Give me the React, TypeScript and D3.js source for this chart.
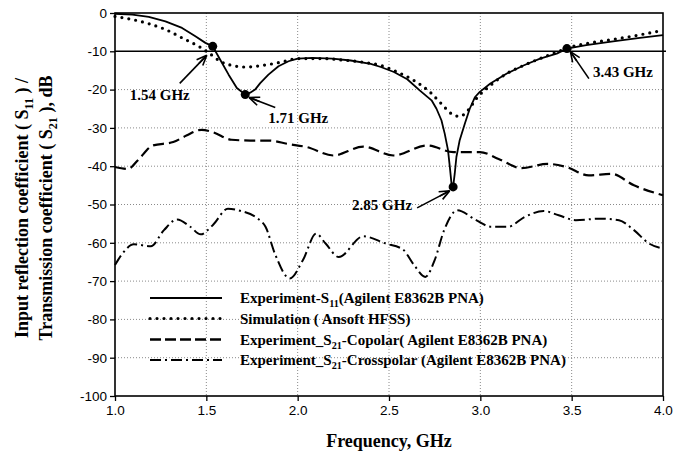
import { useEffect, useRef } from 'react';
import * as d3 from 'd3';

type Pt = [number, number];

const xTicks = [1.0, 1.5, 2.0, 2.5, 3.0, 3.5, 4.0];
const yTicks = [0, -10, -20, -30, -40, -50, -60, -70, -80, -90, -100];

// [GHz, dB]
const s11Exp: Pt[] = [
  [1.0, -0.2], [1.095, -0.4], [1.185, -1.0], [1.276, -2.2], [1.367, -3.9], [1.44, -6.1],
  [1.495, -7.8], [1.535, -8.7], [1.576, -12.2], [1.622, -16.1], [1.667, -19.6], [1.713, -21.3],
  [1.74, -20.8], [1.767, -20.0], [1.795, -18.3], [1.84, -16.1], [1.895, -13.9], [1.95, -12.6],
  [2.0, -11.9], [2.08, -11.7], [2.19, -11.9], [2.29, -12.4], [2.4, -13.3], [2.455, -14.1],
  [2.527, -15.4], [2.6, -17.3], [2.668, -20.2], [2.733, -22.8], [2.76, -25.0], [2.787, -28.0],
  [2.805, -31.5], [2.823, -35.8], [2.833, -40.2], [2.842, -44.5], [2.851, -45.4], [2.86, -41.9],
  [2.869, -37.6], [2.887, -33.2], [2.915, -28.9], [2.942, -25.0], [2.97, -22.0], [2.997, -20.6],
  [3.055, -18.4], [3.145, -15.8], [3.236, -13.7], [3.327, -11.9], [3.418, -10.6], [3.474, -9.3],
  [3.58, -8.4], [3.727, -7.4], [3.873, -6.5], [4.0, -5.8],
];

const s11Sim: Pt[] = [
  [1.0, -0.9], [1.095, -1.7], [1.185, -2.8], [1.276, -4.3], [1.367, -6.5], [1.458, -8.7],
  [1.513, -10.4], [1.576, -12.6], [1.64, -13.7], [1.713, -14.1], [1.804, -13.7], [1.913, -12.8],
  [2.0, -11.9], [2.13, -11.9], [2.25, -12.3], [2.38, -13.0], [2.455, -13.7], [2.545, -15.4],
  [2.636, -17.6], [2.723, -20.6], [2.787, -23.7], [2.842, -26.3], [2.887, -27.0], [2.933, -25.4],
  [2.979, -22.3], [3.055, -18.9], [3.145, -15.8], [3.236, -13.7], [3.327, -11.9], [3.418, -10.2],
  [3.49, -8.9], [3.58, -8.0], [3.727, -6.9], [3.873, -5.7], [4.0, -4.5],
];

const s21Co: Pt[] = [
  [1.0, -40.2], [1.072, -40.7], [1.124, -38.5], [1.206, -34.6], [1.319, -33.7], [1.391, -32.0],
  [1.474, -30.5], [1.535, -31.1], [1.638, -33.1], [1.741, -33.3], [1.844, -33.3], [1.947, -34.2],
  [2.05, -35.0], [2.194, -37.2], [2.359, -34.9], [2.524, -37.2], [2.709, -34.6], [2.853, -36.3],
  [2.997, -36.3], [3.1, -38.1], [3.224, -40.5], [3.368, -39.4], [3.471, -40.2], [3.594, -42.4],
  [3.718, -42.0], [3.841, -45.0], [4.0, -47.6],
];

const s21Cross: Pt[] = [
  [1.0, -65.8], [1.041, -62.8], [1.103, -60.4], [1.196, -60.9], [1.268, -56.7], [1.34, -53.9],
  [1.412, -55.8], [1.469, -57.8], [1.535, -55.4], [1.618, -51.1], [1.69, -51.7], [1.782, -53.7],
  [1.824, -55.8], [1.875, -62.8], [1.957, -69.3], [2.029, -64.5], [2.101, -57.6], [2.153, -60.2],
  [2.225, -63.7], [2.359, -58.3], [2.482, -60.2], [2.575, -61.7], [2.637, -65.8], [2.699, -68.9],
  [2.75, -64.5], [2.802, -56.7], [2.874, -51.5], [2.977, -54.1], [3.059, -55.8], [3.152, -55.8],
  [3.244, -53.2], [3.347, -51.7], [3.429, -52.8], [3.522, -54.1], [3.656, -53.7], [3.759, -54.1],
  [3.841, -56.7], [3.924, -60.2], [4.0, -61.5],
];

const markerPts: Pt[] = [[1.535, -8.7], [1.713, -21.3], [2.851, -45.4], [3.474, -9.3]];
const markerLabels = ['1.54 GHz', '1.71 GHz', '2.85 GHz', '3.43 GHz'];

const legendItems: [string, string][][] = [
  [['Experiment-S', ''], ['11', 'sub'], ['(Agilent E8362B PNA)', '']],
  [['Simulation ( Ansoft HFSS)', '']],
  [['Experiment_S', ''], ['21', 'sub'], ['-Copolar( Agilent E8362B PNA)', '']],
  [['Experiment_S', ''], ['21', 'sub'], ['-Crosspolar (Agilent E8362B PNA)', '']],
];

const W = 690;
const H = 455;
const SERIF = '"Liberation Serif", "Times New Roman", serif';
const SANS = '"Liberation Sans", Arial, sans-serif';

export default function App() {
  const svgRef = useRef<SVGSVGElement | null>(null);

  useEffect(() => {
    if (!svgRef.current) return;
    const svg = d3.select(svgRef.current);
    svg.selectAll('*').remove();

    const left = 115, right = 663, top = 13, bottom = 396;
    const x = d3.scaleLinear().domain([1, 4]).range([left, right]);
    const y = d3.scaleLinear().domain([0, -100]).range([top, bottom]);

    // grid
    const grid = svg.append('g');
    grid.selectAll('.vg')
      .data(xTicks.filter(t => t > 1 && t < 4))
      .enter().append('line')
      .attr('x1', d => x(d)).attr('x2', d => x(d))
      .attr('y1', top).attr('y2', bottom)
      .attr('stroke', '#8a8a8a').attr('stroke-width', 1).attr('stroke-dasharray', '1 2');
    grid.selectAll('.hg')
      .data(yTicks.filter(t => t < -10 && t > -100))
      .enter().append('line')
      .attr('x1', left).attr('x2', right)
      .attr('y1', d => y(d)).attr('y2', d => y(d))
      .attr('stroke', '#8a8a8a').attr('stroke-width', 1).attr('stroke-dasharray', '1 2');

    // frame
    const frame = svg.append('g').attr('stroke', '#000').attr('stroke-width', 1.6).attr('fill', 'none');
    frame.append('rect').attr('x', left).attr('y', top).attr('width', right - left).attr('height', bottom - top);
    frame.append('line').attr('x1', left).attr('x2', right + 3).attr('y1', y(-10)).attr('y2', y(-10));

    // axes
    const xAxis = svg.append('g').attr('transform', `translate(0,${bottom})`)
      .call(d3.axisBottom(x).tickValues(xTicks).tickFormat(d3.format('.1f')).tickSize(5).tickPadding(4));
    const yAxis = svg.append('g').attr('transform', `translate(${left},0)`)
      .call(d3.axisLeft(y).tickValues(yTicks).tickFormat(d => String(d)).tickSize(5).tickPadding(3));
    [xAxis, yAxis].forEach(a => {
      a.select('.domain').remove();
      a.selectAll('line').attr('stroke', '#000').attr('stroke-width', 1.3);
      a.selectAll('text').attr('font-family', SANS).attr('font-size', 13.5).attr('fill', '#000');
    });

    // curves
    const line = d3.line<Pt>().x(d => x(d[0])).y(d => y(d[1]));
    const smooth = d3.line<Pt>().x(d => x(d[0])).y(d => y(d[1])).curve(d3.curveMonotoneX);

    svg.append('path').attr('d', smooth(s21Co)).attr('fill', 'none')
      .attr('stroke', '#000').attr('stroke-width', 2.2).attr('stroke-dasharray', '11 5');
    svg.append('path').attr('d', smooth(s21Cross)).attr('fill', 'none')
      .attr('stroke', '#000').attr('stroke-width', 2).attr('stroke-dasharray', '11 4 2 4');
    svg.append('path').attr('d', smooth(s11Sim)).attr('fill', 'none')
      .attr('stroke', '#000').attr('stroke-width', 3.2).attr('stroke-linecap', 'round')
      .attr('stroke-dasharray', '0 7');
    svg.append('path').attr('d', line(s11Exp)).attr('fill', 'none')
      .attr('stroke', '#000').attr('stroke-width', 1.8).attr('stroke-linejoin', 'round');

    // markers + annotations
    const annot = [
      { tip: [-6, 9], tail: [-33, 37], text: [-83, 54], anchor: 'start' },
      { tip: [4, 3], tail: [30, 13], text: [23, 28], anchor: 'start' },
      { tip: [-3.5, 4], tail: [-36, 21], text: [-41, 23], anchor: 'end' },
      { tip: [3.5, 3], tail: [22, 30], text: [26, 28], anchor: 'start' },
    ];
    markerPts.forEach((p, i) => {
      const cx = x(p[0]), cy = y(p[1]);
      const a = annot[i];
      svg.append('circle').attr('cx', cx).attr('cy', cy).attr('r', 4.5).attr('fill', '#000');
      const tx = cx + a.tip[0], ty = cy + a.tip[1];
      const sx = cx + a.tail[0], sy = cy + a.tail[1];
      const ang = Math.atan2(ty - sy, tx - sx);
      const g = svg.append('g').attr('stroke', '#000').attr('stroke-width', 1.6).attr('fill', 'none');
      g.append('line').attr('x1', sx).attr('y1', sy).attr('x2', tx).attr('y2', ty);
      [-0.4, 0, 0.4].forEach(da => {
        g.append('line').attr('x1', tx).attr('y1', ty)
          .attr('x2', tx - 11 * Math.cos(ang + da)).attr('y2', ty - 11 * Math.sin(ang + da));
      });
      svg.append('text').attr('x', cx + a.text[0]).attr('y', cy + a.text[1])
        .attr('text-anchor', a.anchor).attr('font-family', SERIF).attr('font-weight', 'bold')
        .attr('font-size', 15).text(markerLabels[i]);
    });

    // text with subscripts
    const rich = (sel: d3.Selection<SVGTextElement, unknown, null, undefined>, parts: [string, string][], size: number) => {
      let shifted = false;
      parts.forEach(([t, kind]) => {
        const isSub = kind === 'sub';
        const ts = sel.append('tspan').text(t).attr('font-size', isSub ? size * 0.68 : size);
        if (isSub && !shifted) { ts.attr('dy', size * 0.28); shifted = true; }
        else if (!isSub && shifted) { ts.attr('dy', -size * 0.28); shifted = false; }
      });
    };

    // legend
    const legY = [298, 318.5, 339.5, 360];
    const legStyles = [
      { w: 1.8, dash: null, cap: 'butt' },
      { w: 3.2, dash: '0 7', cap: 'round' },
      { w: 2.4, dash: '11 4', cap: 'butt' },
      { w: 2, dash: '11 4 2 4', cap: 'butt' },
    ];
    legendItems.forEach((parts, i) => {
      const st = legStyles[i];
      const l = svg.append('line').attr('x1', 150).attr('x2', 222).attr('y1', legY[i]).attr('y2', legY[i])
        .attr('stroke', '#000').attr('stroke-width', st.w).attr('stroke-linecap', st.cap);
      if (st.dash) l.attr('stroke-dasharray', st.dash);
      const t = svg.append('text').attr('x', 240).attr('y', legY[i] + 5)
        .attr('font-family', SERIF).attr('font-weight', 'bold');
      rich(t, parts, 15);
    });

    // axis titles
    svg.append('text').attr('x', (left + right) / 2).attr('y', 447).attr('text-anchor', 'middle')
      .attr('font-family', SERIF).attr('font-weight', 'bold').attr('font-size', 18).text('Frequency, GHz');

    const yt1 = svg.append('text').attr('transform', `translate(28,208) rotate(-90)`).attr('text-anchor', 'middle')
      .attr('font-family', SERIF).attr('font-weight', 'bold');
    rich(yt1, [['Input reflection coefficient ( S', ''], ['11', 'sub'], [' ) /', '']], 18);
    const yt2 = svg.append('text').attr('transform', `translate(52,208) rotate(-90)`).attr('text-anchor', 'middle')
      .attr('font-family', SERIF).attr('font-weight', 'bold');
    rich(yt2, [['Transmission coefficient ( S', ''], ['21', 'sub'], [' ), dB', '']], 18);
  }, []);

  return (
    <svg ref={svgRef} width={W} height={H}
      style={{ position: 'absolute', left: 0, top: 0, background: '#fff' }} />
  );
}
